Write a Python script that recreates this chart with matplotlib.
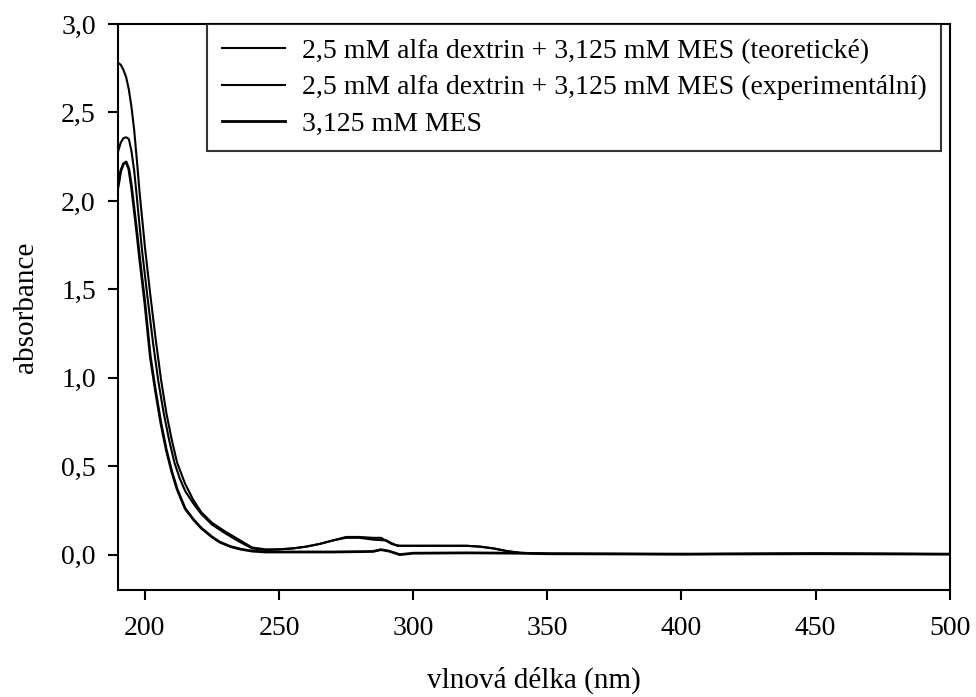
import matplotlib.pyplot as plt

plt.rcParams['font.family'] = ['Liberation Serif', 'DejaVu Serif']

# wavelengths (nm) and absorbance of the three spectra
nm_teor = [190, 191, 192, 193, 194, 195, 196, 197, 198, 200, 202, 204, 206, 208, 210, 212,
           215, 218, 221, 225, 230, 235, 240, 245, 250, 255, 260, 265, 270, 275, 280, 285,
           288, 292, 295, 300, 310, 320, 325, 330, 335, 340, 345, 350, 400, 450, 500]
a_teor = [2.78, 2.77, 2.74, 2.70, 2.63, 2.53, 2.40, 2.23, 2.05, 1.74, 1.47, 1.22, 0.99, 0.80,
          0.65, 0.52, 0.40, 0.31, 0.24, 0.18, 0.13, 0.085, 0.04, 0.03, 0.03, 0.035, 0.045, 0.06,
          0.08, 0.10, 0.10, 0.095, 0.095, 0.06, 0.05, 0.05, 0.05, 0.05, 0.045, 0.035, 0.02, 0.01,
          0.008, 0.005, 0.003, 0.006, 0.003]

nm_exp = [190, 191, 192, 193, 194, 195, 196, 197, 198, 199, 201, 203, 205, 207, 209, 211, 213,
          215, 218, 221, 225, 230, 235, 240, 245, 250, 255, 260, 265, 270, 275, 280, 285,
          290, 294, 300, 310, 320, 325, 330, 335, 340, 345, 350, 400, 450, 500]
a_exp = [2.28, 2.33, 2.355, 2.36, 2.35, 2.28, 2.17, 2.02, 1.86, 1.71, 1.45, 1.20, 0.98, 0.80,
         0.65, 0.52, 0.43, 0.36, 0.29, 0.23, 0.17, 0.12, 0.075, 0.035, 0.025, 0.03, 0.035, 0.045,
         0.06, 0.08, 0.095, 0.095, 0.085, 0.08, 0.05, 0.05, 0.05, 0.05, 0.045, 0.035, 0.02, 0.01,
         0.008, 0.005, 0.003, 0.006, 0.003]

nm_mes = [190, 191, 192, 193, 194, 195, 196, 197, 198, 200, 202, 204, 206, 208, 210, 212,
          215, 218, 221, 225, 228, 232, 236, 240, 245, 250, 270, 285, 288, 291, 295, 300, 320,
          340, 350, 400, 450, 500]
a_mes = [2.08, 2.17, 2.21, 2.22, 2.18, 2.08, 1.95, 1.82, 1.68, 1.42, 1.12, 0.92, 0.74, 0.59,
         0.47, 0.37, 0.26, 0.20, 0.15, 0.10, 0.07, 0.045, 0.03, 0.02, 0.015, 0.015, 0.015, 0.018,
         0.028, 0.02, 0.0, 0.008, 0.01, 0.008, 0.005, 0.003, 0.005, 0.003]

labels = ['2,5 mM alfa dextrin + 3,125 mM MES (teoretické)',
          '2,5 mM alfa dextrin + 3,125 mM MES (experimentální)',
          '3,125 mM MES']

fig = plt.figure(figsize=(9.76, 6.97), dpi=100)
ax = fig.add_axes([0.121, 0.1535, 0.852, 0.812])

ax.plot(nm_teor, a_teor, color='black', lw=1.5, label=labels[0])
ax.plot(nm_exp, a_exp, color='black', lw=1.5, label=labels[1])
ax.plot(nm_mes, a_mes, color='black', lw=2.0, label=labels[2])

ax.set_xlim(190, 500)
ax.set_ylim(-0.2, 3.0)
ax.set_xticks([200, 250, 300, 350, 400, 450, 500])
ax.set_yticks([0, 0.5, 1.0, 1.5, 2.0, 2.5, 3.0])
ax.set_yticklabels(['0,0', '0,5', '1,0', '1,5', '2,0', '2,5', '3,0'])
ax.tick_params(direction='out', length=7, width=1.5, labelsize=20)
ax.tick_params(axis='x', pad=12)
ax.tick_params(axis='y', pad=9)
for s in ax.spines.values():
    s.set_linewidth(1.5)

ax.set_xlabel('vlnová délka (nm)', fontsize=21, labelpad=18)
ax.set_ylabel('absorbance', fontsize=21, labelpad=16)

leg = ax.legend(loc='upper left', bbox_to_anchor=(0.107, 1.0), borderaxespad=0,
                fontsize=20, frameon=True, fancybox=False, edgecolor='black',
                handlelength=2.3, handletextpad=0.58, borderpad=0.52, labelspacing=0.4)
leg.get_frame().set_linewidth(1.5)

fig.savefig('out.png', dpi=100)
